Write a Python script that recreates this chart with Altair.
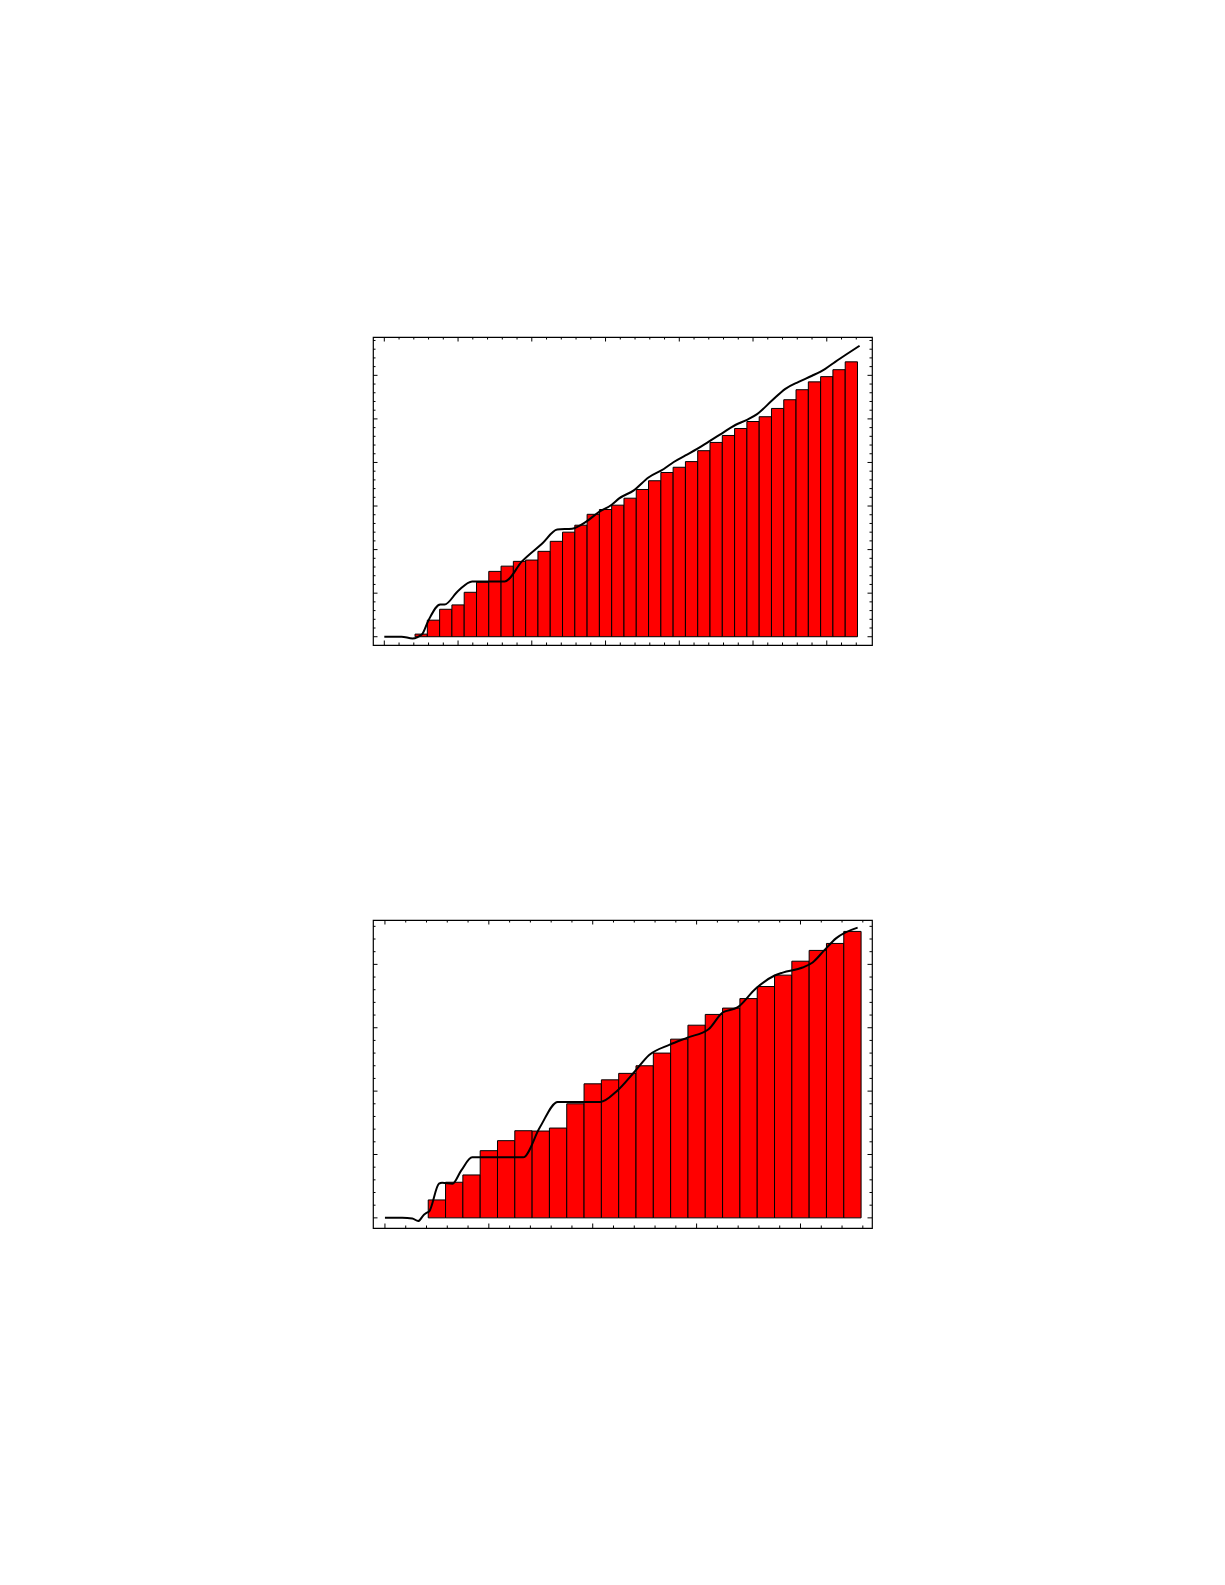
import altair as alt
import pandas as pd

# bar heights (in major y-tick units), bars centred at x = 3, 4, 5, ...
bars_top = [0.06, 0.38, 0.63, 0.73, 1.02, 1.25, 1.50, 1.62, 1.73, 1.76, 1.96, 2.19,
            2.40, 2.56, 2.81, 2.92, 3.02, 3.18, 3.38, 3.58, 3.77, 3.89, 4.02, 4.27,
            4.46, 4.62, 4.78, 4.94, 5.05, 5.24, 5.44, 5.67, 5.85, 5.97, 6.13, 6.31]
bars_bottom = [0.283, 0.562, 0.677, 1.06, 1.218, 1.375, 1.37, 1.417, 1.80, 2.115,
               2.178, 2.28, 2.40, 2.60, 2.82, 3.04, 3.21, 3.31, 3.46, 3.65, 3.83,
               4.05, 4.22, 4.33, 4.52]

line_top_x = [0, 1.4, 2.3, 3.05, 3.6, 4.55, 4.9, 6.0, 7.15, 9.8, 11.2, 12.85, 14.07,
              15.28, 16.37, 17.45, 18.5, 19.08, 20.3, 21.52, 22.74, 23.55, 24.5, 25.45,
              26.4, 27.48, 28.56, 29.51, 30.33, 31.54, 32.63, 33.71, 34.8, 35.88, 36.69,
              37.64, 38.67]
line_top_y = [0, 0, -0.04, 0.05, 0.38, 0.74, 0.74, 1.05, 1.27, 1.27, 1.73, 2.14, 2.46,
              2.48, 2.63, 2.86, 3.03, 3.17, 3.36, 3.66, 3.85, 4.01, 4.16, 4.31, 4.48,
              4.67, 4.86, 4.98, 5.11, 5.42, 5.69, 5.85, 5.99, 6.15, 6.31, 6.49, 6.68]

line_bottom_x = [0, 1.0, 1.58, 1.92, 2.25, 2.4, 2.55, 3.12, 3.3, 3.9, 4.4, 5.04, 7.98,
                 8.95, 9.98, 12.45, 13.37, 14.43, 15.26, 16.42, 17.47, 18.69, 19.5,
                 20.36, 21.42, 22.48, 22.97, 24.12, 24.7, 25.37, 26.05, 27.3]
line_bottom_y = [0, 0, -0.01, -0.05, 0.05, 0.08, 0.1, 0.54, 0.555, 0.54, 0.745, 0.955,
                 0.955, 1.43, 1.83, 1.83, 1.995, 2.31, 2.57, 2.73, 2.845, 2.976, 3.24,
                 3.32, 3.62, 3.82, 3.87, 3.95, 4.03, 4.22, 4.41, 4.58]

W = 499
H = 308


def tick_values(lo, hi, step, sub):
    major, minor = [], []
    k = 0
    while k * step / sub < hi:
        v = round(k * step / sub, 3)
        if v > lo:
            (major if k % sub == 0 else minor).append(v)
        k += 1
    return major, minor


def tick_layers(values, scale, channel, size):
    df = pd.DataFrame({'t': values})
    base = alt.Chart(df).mark_rule(color='black', strokeWidth=1)
    if channel == 'x':
        enc = alt.X('t:Q', scale=scale, axis=None)
        return [base.encode(x=enc, y=alt.value(0), y2=alt.value(size)),
                base.encode(x=enc, y=alt.value(H), y2=alt.value(H - size))]
    enc = alt.Y('t:Q', scale=scale, axis=None)
    return [base.encode(y=enc, x=alt.value(0), x2=alt.value(size)),
            base.encode(y=enc, x=alt.value(W), x2=alt.value(W - size))]


def panel(heights, lx, ly, x_dom, y_dom):
    xs = alt.Scale(domain=x_dom, nice=False, zero=False)
    ys = alt.Scale(domain=y_dom, nice=False, zero=False)

    bars_df = pd.DataFrame({
        'x0': [2.5 + i for i in range(len(heights))],
        'x1': [3.5 + i for i in range(len(heights))],
        'h': heights,
        'base': [0] * len(heights),
    })
    bars = alt.Chart(bars_df).mark_rect(
        color='#ff0000', stroke='black', strokeWidth=1
    ).encode(
        x=alt.X('x0:Q', scale=xs, axis=None), x2='x1',
        y=alt.Y('h:Q', scale=ys, axis=None), y2='base'
    )

    line = alt.Chart(pd.DataFrame({'x': lx, 'y': ly})).mark_line(
        color='black', strokeWidth=2, interpolate='monotone'
    ).encode(
        x=alt.X('x:Q', scale=xs, axis=None),
        y=alt.Y('y:Q', scale=ys, axis=None)
    )

    xmaj, xmin = tick_values(x_dom[0], x_dom[1] - 0.2, 6, 5)
    ymaj, ymin = tick_values(y_dom[0], y_dom[1] - 0.02, 1, 5)
    ticks = (tick_layers(xmaj, xs, 'x', 4.5) + tick_layers(xmin, xs, 'x', 2.5)
             + tick_layers(ymaj, ys, 'y', 4.5) + tick_layers(ymin, ys, 'y', 2.5))

    return alt.layer(bars, line, *ticks).properties(width=W, height=H)


top = panel(bars_top, line_top_x, line_top_y, [-0.92, 39.68], [-0.19, 6.88])
bottom = panel(bars_bottom, line_bottom_x, line_bottom_y, [-0.69, 28.13], [-0.16, 4.70])

chart = alt.vconcat(top, bottom, spacing=271).properties(
    padding={'left': 363, 'top': 327, 'right': 10, 'bottom': 10},
    background='white'
).configure_view(stroke='black', strokeWidth=1.2)

chart.save("out.html", embed_options={"renderer": "svg", "actions": False})
